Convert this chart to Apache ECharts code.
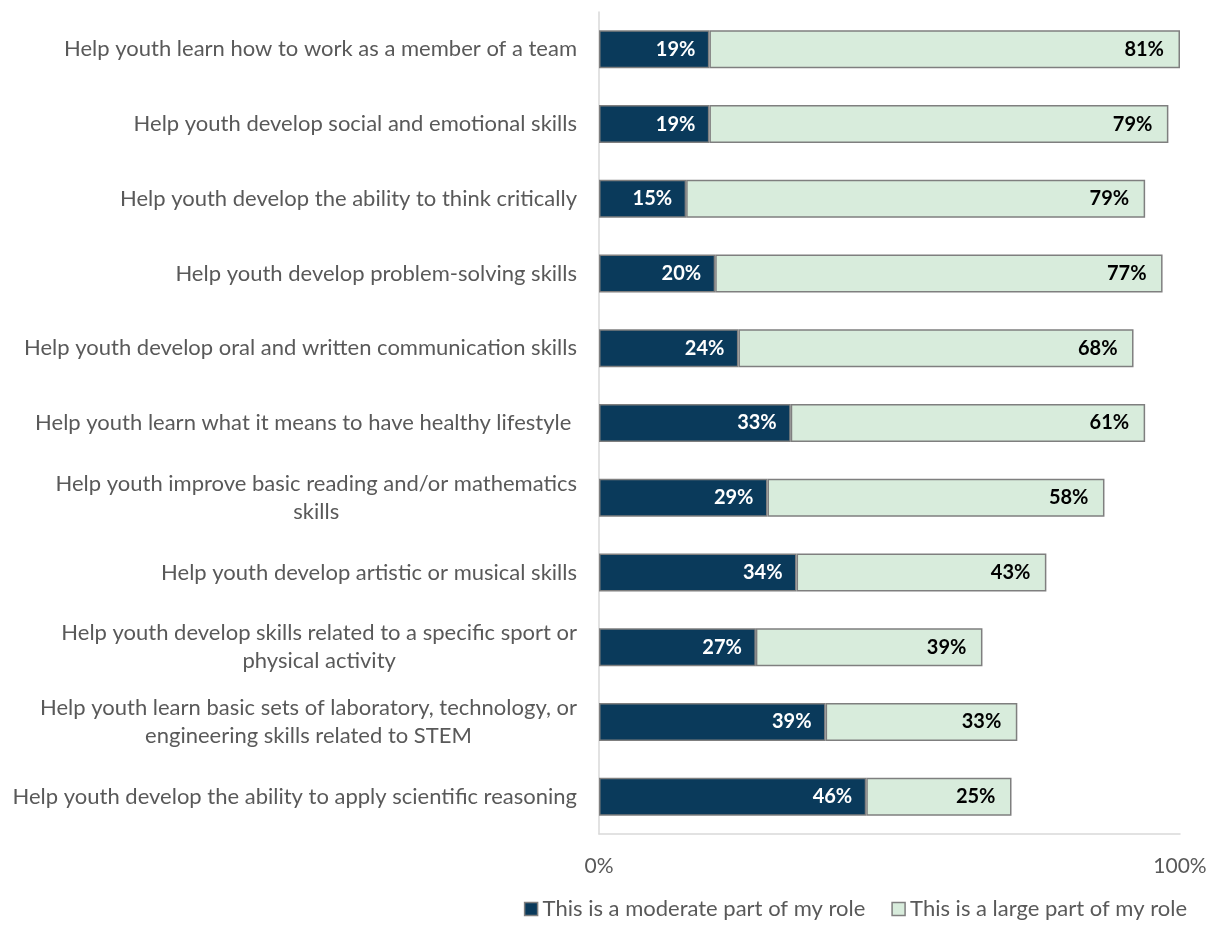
<!DOCTYPE html>
<html>
<head>
<meta charset="utf-8">
<title>Roles in youth development</title>
<script src="https://cdn.jsdelivr.net/npm/echarts@6/dist/echarts.min.js"></script>
<style>
  html, body { margin: 0; padding: 0; background: #ffffff; }
  #chart { width: 1214px; height: 925px; }
</style>
</head>
<body>
<div id="chart"></div>
<script>
// Survey items, listed top to bottom
const categories = [
  'Help youth learn how to work as a member of a team',
  'Help youth develop social and emotional skills',
  'Help youth develop the ability to think critically',
  'Help youth develop problem-solving skills',
  'Help youth develop oral and written communication skills',
  'Help youth learn what it means to have healthy lifestyle ',
  'Help youth improve basic reading and/or mathematics\nskills',
  'Help youth develop artistic or musical skills',
  'Help youth develop skills related to a specific sport or\nphysical activity',
  'Help youth learn basic sets of laboratory, technology, or\nengineering skills related to STEM',
  'Help youth develop the ability to apply scientific reasoning'
];

const seriesNames = ['This is a moderate part of my role', 'This is a large part of my role'];

// Percent of respondents
const moderateValues = [19, 19, 15, 20, 24, 33, 29, 34, 27, 39, 46];
const largeValues = [81, 79, 79, 77, 68, 61, 58, 43, 39, 33, 25];

const xTicks = [0, 100];

const FONT = 'Lato, "Open Sans", sans-serif';
const GREY_TEXT = '#595959';
const TEXT_SIZE = 22;

const chart = echarts.init(document.getElementById('chart'), null, { renderer: 'canvas' });

chart.setOption({
  animation: false,
  backgroundColor: '#ffffff',
  textStyle: { fontFamily: FONT },
  grid: { left: 599, right: 34, top: 12, bottom: 91, containLabel: false },
  legend: {
    data: seriesNames,
    bottom: 0,
    right: 22,
    icon: 'rect',
    itemWidth: 13,
    itemHeight: 13,
    itemGap: 26,
    textStyle: { color: GREY_TEXT, fontSize: 22, fontFamily: FONT, padding: [0, 0, 0, 0] },
    itemStyle: { borderColor: '#7f7f7f', borderWidth: 1.5 }
  },
  xAxis: {
    type: 'value',
    min: xTicks[0],
    max: xTicks[xTicks.length - 1],
    interval: xTicks[1] - xTicks[0],
    axisLine: { show: true, lineStyle: { color: '#d9d9d9', width: 1.5 } },
    axisTick: { show: false },
    splitLine: { show: false },
    axisLabel: {
      margin: 22,
      color: GREY_TEXT,
      fontSize: 21,
      fontFamily: FONT,
      formatter: '{value}%'
    }
  },
  yAxis: {
    type: 'category',
    data: categories,
    inverse: true,
    axisLine: { show: true, lineStyle: { color: '#d9d9d9', width: 1.5 } },
    axisTick: { show: false },
    axisLabel: {
      margin: 22,
      color: GREY_TEXT,
      fontSize: TEXT_SIZE,
      fontFamily: FONT,
      lineHeight: 28,
      formatter: function (value) {
        return value.split('\n').map(function (line) { return '{c|' + line + '}'; }).join('\n');
      },
      rich: {
        c: { align: 'center', color: GREY_TEXT, fontSize: TEXT_SIZE, fontFamily: FONT, lineHeight: 28 }
      }
    }
  },
  series: [
    {
      name: seriesNames[0],
      type: 'bar',
      stack: 'role',
      data: moderateValues,
      barWidth: 38,
      itemStyle: { color: '#0a3a5b', borderColor: '#7f7f7f', borderWidth: 1.5 },
      label: {
        show: true,
        position: 'insideRight',
        distance: 14,
        formatter: '{c}%',
        color: '#ffffff',
        fontWeight: 'bold',
        fontSize: 20,
        fontFamily: FONT
      }
    },
    {
      name: seriesNames[1],
      type: 'bar',
      stack: 'role',
      data: largeValues,
      barWidth: 38,
      itemStyle: { color: '#d8ecdc', borderColor: '#7f7f7f', borderWidth: 1.5 },
      label: {
        show: true,
        position: 'insideRight',
        distance: 16,
        formatter: '{c}%',
        color: '#000000',
        fontWeight: 'bold',
        fontSize: 20,
        fontFamily: FONT
      }
    }
  ]
});
</script>
</body>
</html>
